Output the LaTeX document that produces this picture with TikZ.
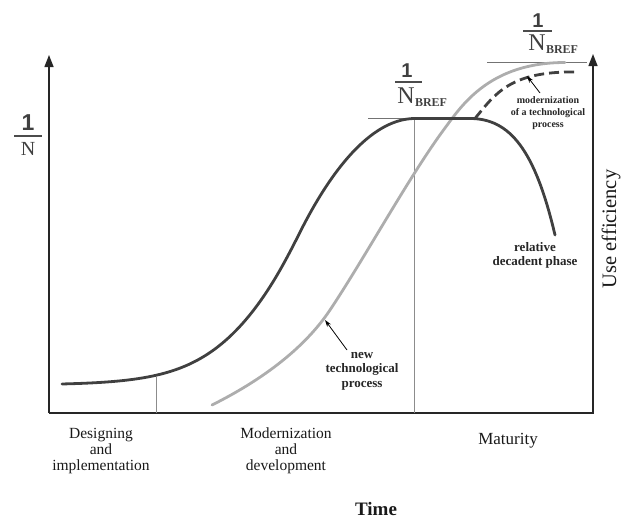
\documentclass[tikz,border=0pt]{standalone}
\usepackage{fontspec}
\setmainfont{Liberation Serif}
\newfontfamily\arialfont{Liberation Sans}
\usetikzlibrary{arrows.meta}
\tikzset{
  axisline/.style={line width=1.4pt, draw=black!85, -{Triangle[length=12pt,width=9pt]}},
  darkcurve/.style={line width=2.8pt, draw=black!75, line cap=round, line join=round},
  greycurve/.style={line width=2.8pt, draw=black!32, line cap=round},
  guide/.style={line width=1pt, draw=black!45},
  levelline/.style={line width=1.8pt, draw=black!55},
  pointer/.style={line width=0.8pt, draw=black, -{Stealth[length=7pt,width=4.5pt]}},
  phase/.style={align=center, font=\fontsize{15.5}{16.2}\selectfont, text=black!90, inner sep=0pt},
  blabel/.style={align=center, font=\bfseries\fontsize{13}{14.5}\selectfont, text=black!85, inner sep=0pt},
  one/.style={anchor=base, inner sep=0pt, text=black!75},
  bigN/.style={anchor=base, inner sep=0pt, text=black!75},
  fracbar/.style={line width=1.5pt, draw=black!70},
}
\begin{document}
\begin{tikzpicture}[x=1pt,y=-1pt]
\useasboundingbox (0,0) rectangle (629,520);

% axes
\coordinate (O) at (49,413);
\coordinate (Ytop) at (49,55);
\coordinate (R) at (593,413);
\coordinate (Rtop) at (593,54);
\draw[axisline] (O) -- (Ytop);
\draw[axisline] (O) -- (R) -- (Rtop);

% phase separators
\coordinate (s1top) at (156,377);
\coordinate (s1bot) at (156,413);
\coordinate (s2top) at (414,118.5);
\coordinate (s2bot) at (414,413);
\draw[guide] (s1top) -- (s1bot);
\draw[guide] (s2top) -- (s2bot);

% level lines
\coordinate (l1a) at (368,118.5);
\coordinate (l1b) at (475,118.5);
\coordinate (l2a) at (487,62.5);
\coordinate (l2b) at (587,62.5);
\draw[levelline] (l1a) -- (l1b);
\draw[levelline] (l2a) -- (l2b);

% new technological process (grey)
\coordinate (g0) at (212,405);
\coordinate (g1) at (330,310);
\coordinate (g2) at (445,128);
\coordinate (g3) at (565,62.5);
\draw[greycurve] (g0) .. controls (250,386) and (300,355) .. (g1)
  .. controls (365,257.5) and (410,175) .. (g2)
  .. controls (462,105) and (490,62.5) .. (g3);

% main dark curve
\coordinate (d0) at (415,118.5);
\coordinate (d1) at (470,118.5);
\coordinate (d2) at (555,235);
\draw[darkcurve] plot[domain=62:300, samples=120]
  (\x, {385 - 266.5/(1+exp(-(\x-290)/(35-6*tanh((\x-290)/50))))})
  .. controls +(35,-69.8) and (375,118.5) .. (d0) -- (d1)
  .. controls (510,118.5) and (535,150) .. (d2);

% modernization (dashed)
\coordinate (m0) at (475,118.5);
\coordinate (m1) at (576,72);
\draw[darkcurve, line cap=butt, dash pattern=on 10pt off 5pt] (m0) .. controls (495,94) and (510,71) .. (m1);

% labels
\node[blabel, font=\bfseries\fontsize{10}{11.7}\selectfont] (modlab) at (548,113) {modernization\\of a technological\\process};
\coordinate (modtail) at (540,93);
\coordinate (modtip) at (527,76);
\draw[pointer] (modtail) -- (modtip);

\node[blabel] (declab) at (535,255.5) {relative\\decadent phase};

\node[blabel] (newlab) at (362,371) {new\\technological\\process};
\coordinate (newtail) at (347,350);
\coordinate (newtip) at (325,320);
\draw[pointer] (newtail) -- (newtip);

\node[rotate=90, inner sep=0pt, font=\fontsize{20.5}{22}\selectfont, text=black!90] (uselab) at (611,229) {Use efficiency};

\node[phase] (ph1) at (101,451) {Designing\\and\\implementation};
\node[phase] (ph2) at (286,451) {Modernization\\and\\development};
\node[phase, font=\fontsize{17}{18}\selectfont] (ph3) at (508,441) {Maturity};
\node[inner sep=0pt, font=\bfseries\fontsize{19}{21}\selectfont, text=black!90] (timelab) at (376,509) {Time};

% 1/N left
\node[one, font=\arialfont\bfseries\fontsize{23}{23}\selectfont] (oneL) at (28,130) {1};
\coordinate (barLa) at (14,136);
\coordinate (barLb) at (42,136);
\draw[fracbar] (barLa) -- (barLb);
\node[bigN, font=\fontsize{20}{20}\selectfont] (NL) at (28,155) {N};

% 1/N_BREF middle
\node[one, font=\arialfont\bfseries\fontsize{20}{20}\selectfont] (oneM) at (407,77) {1};
\coordinate (barMa) at (395,82);
\coordinate (barMb) at (422,82);
\draw[fracbar] (barMa) -- (barMb);
\node[bigN, font=\fontsize{24}{24}\selectfont] (NM) at (406,103) {N};
\node[anchor=base west, inner sep=0pt, text=black!75, font=\bfseries\fontsize{12}{12}\selectfont] (bM) at (NM.base east) {\raisebox{-3pt}{BREF}};

% 1/N_BREF top
\node[one, font=\arialfont\bfseries\fontsize{20}{20}\selectfont] (oneT) at (538,27) {1};
\coordinate (barTa) at (523,31);
\coordinate (barTb) at (552,31);
\draw[fracbar] (barTa) -- (barTb);
\node[bigN, font=\fontsize{24}{24}\selectfont] (NT) at (537,50) {N};
\node[anchor=base west, inner sep=0pt, text=black!75, font=\bfseries\fontsize{12}{12}\selectfont] (bT) at (NT.base east) {\raisebox{-3pt}{BREF}};
\end{tikzpicture}
\end{document}
